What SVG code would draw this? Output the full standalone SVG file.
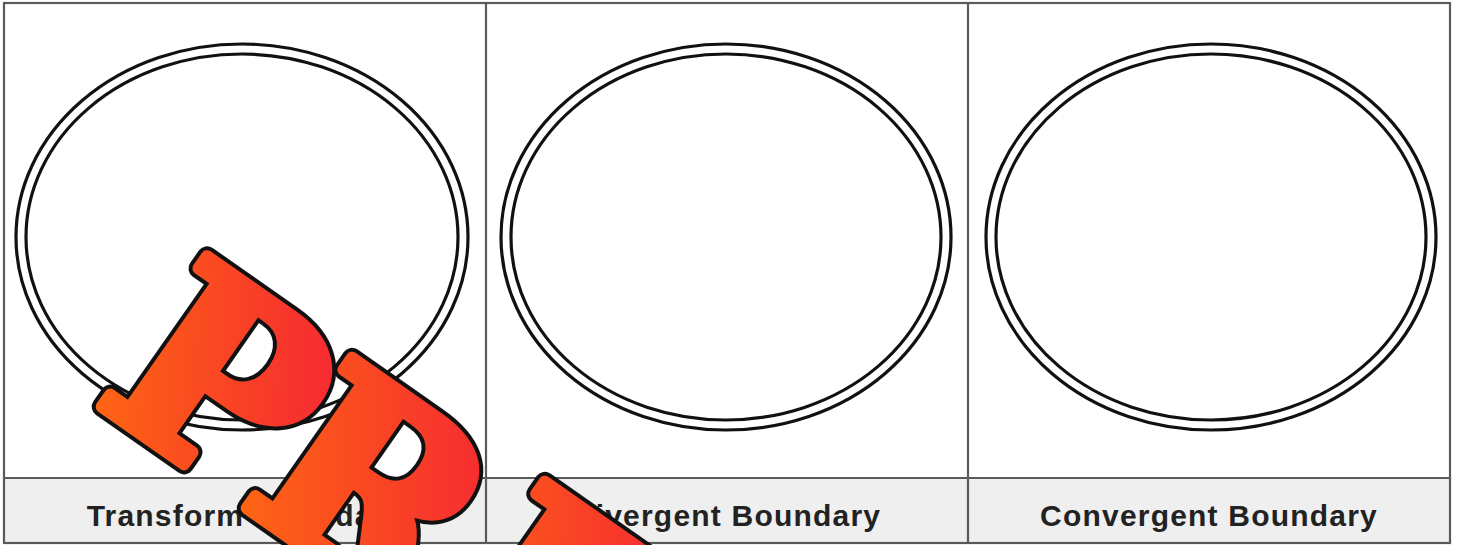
<svg xmlns="http://www.w3.org/2000/svg" width="1457" height="545" viewBox="0 0 1457 545">
  <style>
    .labelrow { fill: #efefef; stroke: none; }
    .grid { fill: none; stroke: #5a5a5a; stroke-width: 2.2; }
    .ring { fill: none; stroke: #111111; stroke-width: 3.2; }
    .label { font-family: "Liberation Sans", Arial, sans-serif; font-weight: bold; font-size: 30px; letter-spacing: 1.2px; fill: #222222; text-anchor: middle; }
    .wmfont { font-family: "DejaVu Serif", "Liberation Serif", serif; font-weight: 900; font-size: 252px; }
    .wm-outline { fill: #111111; stroke: #111111; stroke-width: 20; stroke-linejoin: round; }
    .wm-fill { fill: url(#wmGrad); stroke: url(#wmGrad); stroke-width: 12; stroke-linejoin: round; }
  </style>
  <defs>
    <linearGradient id="wmGrad" x1="0" y1="1" x2="1" y2="0">
      <stop offset="0" stop-color="#ff6d10"/>
      <stop offset="1" stop-color="#f41f37"/>
    </linearGradient>
    <g id="wmLetters" class="wmfont">
      <text x="0" y="0">P</text>
      <text x="177" y="0">R</text>
      <text x="406" y="-9">E</text>
    </g>
  </defs>
  <rect x="0" y="0" width="1457" height="545" fill="#ffffff"/>
  <g id="table">
    <rect class="labelrow" x="4" y="478" width="1446" height="65"/>
    <rect class="grid" x="4" y="3" width="1446" height="540"/>
    <line class="grid" x1="4" y1="478" x2="1450" y2="478"/>
    <line class="grid" x1="486" y1="3" x2="486" y2="543"/>
    <line class="grid" x1="968" y1="3" x2="968" y2="543"/>
  </g>
  <g id="cell-transform">
    <ellipse class="ring" cx="242" cy="237" rx="226" ry="193"/>
    <ellipse class="ring" cx="242" cy="237" rx="216" ry="183"/>
    <text class="label" x="245" y="526">Transform Boundary</text>
  </g>
  <g id="cell-divergent">
    <ellipse class="ring" cx="726" cy="237" rx="225" ry="193"/>
    <ellipse class="ring" cx="726" cy="237" rx="215" ry="183"/>
    <text class="label" x="727" y="526">Divergent Boundary</text>
  </g>
  <g id="cell-convergent">
    <ellipse class="ring" cx="1211" cy="237" rx="225" ry="193"/>
    <ellipse class="ring" cx="1211" cy="237" rx="215" ry="183"/>
    <text class="label" x="1209" y="526">Convergent Boundary</text>
  </g>
  <g id="watermark" transform="translate(92,400) rotate(35)">
    <use href="#wmLetters" class="wm-outline"/>
    <use href="#wmLetters" class="wm-fill"/>
  </g>
</svg>
